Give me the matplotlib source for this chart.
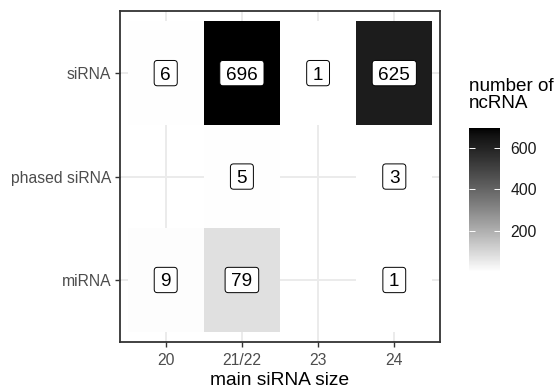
import numpy as np
import matplotlib
matplotlib.use('Agg')
import matplotlib.pyplot as plt
from matplotlib.colors import ListedColormap, Normalize
from matplotlib.patches import BoxStyle

plt.rcParams['font.family'] = ['Liberation Sans', 'DejaVu Sans']

# data (rows listed bottom to top)
sizes = ['20', '21/22', '23', '24']
types = ['miRNA', 'phased siRNA', 'siRNA']
counts = np.array([
    [9, 79, np.nan, 1],
    [np.nan, 5, np.nan, 3],
    [6, 696, 1, 625],
])
cbar_ticks = [200, 400, 600]


def lab_grays(n=256):
    # white -> black interpolated in CIELAB lightness, like scale_fill_gradient
    t = np.linspace(0, 1, n)
    L = 100 * (1 - t)
    Y = np.where(L > 8, ((L + 16) / 116) ** 3, L / 903.3)
    s = np.where(Y <= 0.0031308, 12.92 * Y, 1.055 * Y ** (1 / 2.4) - 0.055)
    s = np.clip(s, 0, 1)
    return ListedColormap(np.stack([s, s, s], axis=1))


cmap = lab_grays()
norm = Normalize(vmin=np.nanmin(counts), vmax=np.nanmax(counts))

W, H = 558, 389
fig = plt.figure(figsize=(W / 100, H / 100), dpi=100)
ax = fig.add_axes([120 / W, 47 / H, 320 / W, 331 / H])

ax.set_axisbelow(True)
ax.grid(True, color='#EBEBEB', lw=1.4)
xe = np.arange(len(sizes) + 1) + 0.5
ye = np.arange(len(types) + 1) + 0.5
mesh = ax.pcolormesh(xe, ye, np.ma.masked_invalid(counts), cmap=cmap, norm=norm, zorder=2)

rnd = BoxStyle.Round(pad=0, rounding_size=0.17)


def label_box(x0, y0, w, h, m):
    px = 0.33 * m
    bh = 0.72 * m + 0.62 * m
    cy = y0 + h / 2 + 0.1 * m
    return rnd(x0 - px, cy - bh / 2, w + 2 * px, bh, m)


for i in range(len(types)):
    for j in range(len(sizes)):
        v = counts[i, j]
        if np.isnan(v):
            continue
        ax.annotate(str(int(v)), (j + 1, i + 1), xytext=(0, -1.4), textcoords='offset points',
                    ha='center', va='center', fontsize=13.6, color='black', zorder=4,
                    bbox=dict(boxstyle=label_box, fc='white', ec='black', lw=0.7))

ax.set_xlim(0.4, len(sizes) + 0.6)
ax.set_ylim(0.4, len(types) + 0.6)
ax.set_xticks(range(1, len(sizes) + 1))
ax.set_xticklabels(sizes)
ax.set_yticks(range(1, len(types) + 1))
ax.set_yticklabels(types)
ax.tick_params(length=3.5, width=1.0, color='#333333', labelsize=11.3, labelcolor='#4D4D4D')
ax.tick_params(axis='x', pad=4.5)
ax.tick_params(axis='y', pad=2.8)
for sp in ax.spines.values():
    sp.set_color('#333333')
    sp.set_linewidth(1.3)
    sp.set_zorder(5)
ax.set_xlabel('main siRNA size', fontsize=13.75, color='black', labelpad=3)

cax = fig.add_axes([469 / W, 117 / H, 31 / W, 144 / H])
cb = fig.colorbar(mesh, cax=cax, ticks=cbar_ticks)
cb.outline.set_visible(False)
cax.tick_params(axis='y', direction='in', length=4.5, width=0.7, color='white',
                left=True, right=True, labelsize=11.3, labelcolor='#1A1A1A', pad=7.5)
fig.text(469 / W, 1 - 78 / H, 'number of\nncRNA', ha='left', va='top', fontsize=13.6,
         color='black', linespacing=1.0)

fig.savefig('out.png', dpi=100)
